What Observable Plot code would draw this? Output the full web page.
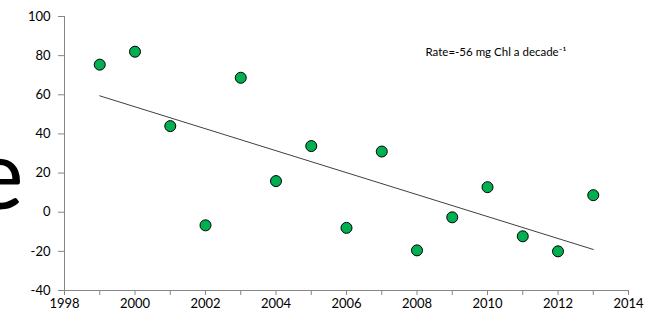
<!DOCTYPE html>
<html>
<head>
<meta charset="utf-8">
<script src="https://cdn.jsdelivr.net/npm/d3@7"></script>
<script src="https://cdn.jsdelivr.net/npm/@observablehq/plot@0.6"></script>
<style>
  body { margin: 0; background: #fff; }
  #chart { width: 647px; height: 320px; overflow: hidden; }
</style>
</head>
<body>
<div id="chart"></div>
<script>
const years = [1999, 2000, 2001, 2002, 2003, 2004, 2005, 2006, 2007, 2008, 2009, 2010, 2011, 2012, 2013];
const values = [75.4, 82, 44, -6.7, 68.7, 15.9, 33.8, -8, 31, -19.5, -2.6, 12.8, -12.3, -20, 8.7];
const yTicks = [-40, -20, 0, 20, 40, 60, 80, 100];
const xTicks = [1998, 1999, 2000, 2001, 2002, 2003, 2004, 2005, 2006, 2007, 2008, 2009, 2010, 2011, 2012, 2013, 2014];
const xLabels = [1998, 2000, 2002, 2004, 2006, 2008, 2010, 2012, 2014];
const annotation = "Rate=-56 mg Chl a decade⁻¹";
const bigLetter = "e";

const data = years.map((y, i) => ({year: y, value: values[i]}));

const font = "Lato, 'Open Sans', sans-serif";
const axisColor = "#868686";

const plot = Plot.plot({
  width: 647,
  height: 320,
  marginLeft: 64,
  marginRight: 19,
  marginTop: 16,
  marginBottom: 30,
  style: {fontFamily: font, fontSize: "13px", color: "#000", background: "#fff", overflow: "visible"},
  x: {domain: [1998, 2014], type: "linear"},
  y: {domain: [-40, 100]},
  marks: [
    Plot.ruleX([1998], {stroke: axisColor}),
    Plot.ruleY([-40], {stroke: axisColor}),
    Plot.axisY({ticks: yTicks, tickSize: 6, tickPadding: 8, stroke: axisColor, tickFormat: d => d < 0 ? "-" + Math.abs(d) : String(d), fontSize: 13, label: null}),
    Plot.axisX({ticks: xTicks, tickSize: 5, tickPadding: 3, stroke: axisColor, tickFormat: d => xLabels.includes(d) ? String(d) : "", fontSize: 13, label: null}),
    Plot.linearRegressionY(data, {x: "year", y: "value", ci: 0, stroke: "#404040", strokeWidth: 1}),
    Plot.dot(data, {x: "year", y: "value", r: 5.5, fill: "#00B050", stroke: "#000", strokeWidth: 1}),
    Plot.text([annotation], {frameAnchor: "top-left", dx: 361, dy: 31, textAnchor: "start", fontSize: 11.5, text: d => d})
  ]
});

d3.select(plot).append("text")
  .attr("x", -27).attr("y", 209)
  .attr("text-anchor", "start")
  .attr("font-family", font)
  .attr("font-size", 96)
  .attr("fill", "#000")
  .text(bigLetter);

document.getElementById("chart").appendChild(plot);
</script>
</body>
</html>
